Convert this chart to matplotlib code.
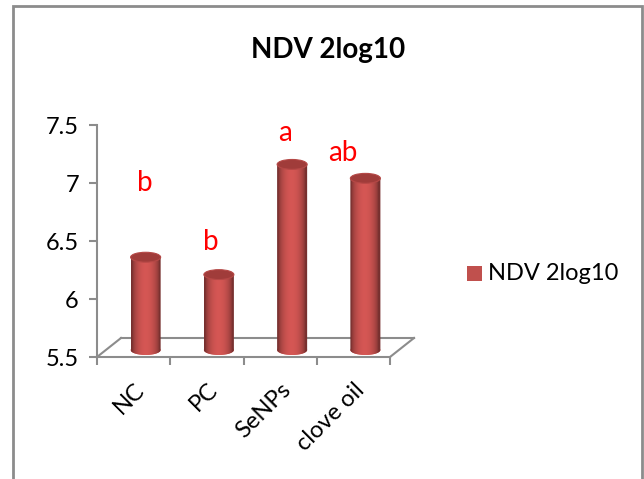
import numpy as np
import matplotlib.pyplot as plt
import matplotlib.transforms as mtransforms
from matplotlib.patches import Ellipse, Rectangle, Polygon

plt.rcParams['font.family'] = ['Lato', 'DejaVu Sans']

# data
groups = ['NC', 'PC', 'SeNPs', 'clove oil']
ndv = [6.3, 6.15, 7.1, 6.98]
letters = ['b', 'b', 'a', 'ab']
letter_y = [7.0, 6.49, 7.43, 7.26]
letter_dx = [0.15, 0.05, 0.07, -0.14]
series_name = 'NDV 2log10'

W, H = 644, 479
fig = plt.figure(figsize=(W / 100, H / 100), dpi=100)

# chart frame
fig.patches.append(Rectangle((13 / W, -0.01), (642 - 13) / W, 1 - 6 / H + 0.01,
                             transform=fig.transFigure, fill=False,
                             edgecolor='#8c8c8c', linewidth=2))

ax = fig.add_axes([97 / W, 1 - 357 / H, (390 - 97) / W, (357 - 125) / H])
x = np.arange(len(groups))
ax.set_xlim(-0.5, len(groups) - 0.5)
ax.set_ylim(5.5, 7.5)
ax.set_yticks([5.5, 6, 6.5, 7, 7.5])
ax.set_yticklabels(['5.5', '6', '6.5', '7', '7.5'])
ax.set_xticks(np.arange(len(groups) + 1) - 0.5, minor=True)
ax.set_xticks(x)
ax.set_xticklabels(groups, rotation=45, ha='right', rotation_mode='anchor')
ax.tick_params(axis='x', which='major', length=0, labelsize=17, pad=16)
ax.tick_params(axis='x', which='minor', length=6, color='#8c8c8c', width=1.5)
ax.tick_params(axis='y', length=6, color='#8c8c8c', width=1.5, labelsize=17, pad=7)
for s in ['top', 'right']:
    ax.spines[s].set_visible(False)
for s in ['left', 'bottom']:
    ax.spines[s].set_color('#8c8c8c')
    ax.spines[s].set_linewidth(1.5)

# 3D floor (depth offset in pixels)
depth = mtransforms.ScaledTranslation(24 / 100, 19 / 100, fig.dpi_scale_trans)
back = ax.transData + depth
x0, x1 = ax.get_xlim()
y0 = ax.get_ylim()[0]
for xx in (x0, x1):
    p0 = ax.transData.transform((xx, y0))
    p1 = back.transform((xx, y0))
    ax.plot([p0[0], p1[0]], [p0[1], p1[1]], transform=None, color='#8c8c8c',
            lw=1.5, clip_on=False)
pb0 = back.transform((x0, y0))
pb1 = back.transform((x1, y0))
ax.plot([pb0[0], pb1[0]], [pb0[1], pb1[1]], transform=None, color='#8c8c8c',
        lw=1.5, clip_on=False)

# cylinders at mid depth
mid = ax.transData + mtransforms.ScaledTranslation(12 / 100, 7 / 100, fig.dpi_scale_trans)
bw = 0.41
ell_h = 0.085
grad = np.linspace(0, 1, 256)
shade = 0.58 + 0.45 * np.sin(np.pi * np.clip(grad * 1.15 - 0.05, 0, 1)) ** 0.6
base = np.array([0.81, 0.33, 0.32])
img = np.clip(base[None, :] * shade[:, None], 0, 1)[None, :, :]
for xi, v in zip(x, ndv):
    bot = Ellipse((xi, y0), bw, ell_h, transform=mid, facecolor=img[0, 128],
                  edgecolor='none', clip_on=False)
    ax.add_patch(bot)
    im = ax.imshow(img, extent=(xi - bw / 2, xi + bw / 2, y0 - ell_h / 2, v),
                   aspect='auto', transform=mid, zorder=2)
    ang = np.linspace(np.pi, 2 * np.pi, 40)
    clip = Polygon(
        np.vstack([
            [[xi - bw / 2, v], [xi - bw / 2, y0]],
            np.column_stack([xi + bw / 2 * np.cos(ang), y0 + ell_h / 2 * np.sin(ang)]),
            [[xi + bw / 2, v]],
        ]), closed=True, transform=mid, facecolor='none', edgecolor='none')
    ax.add_patch(clip)
    im.set_clip_path(clip)
    top = Ellipse((xi, v), bw, ell_h, transform=mid, facecolor='#a03c3a',
                  edgecolor='#b54846', linewidth=0.8, zorder=3, clip_on=False)
    ax.add_patch(top)

ax.set_ylim(5.5, 7.5)
ax.set_xlim(x0, x1)

# significance letters
for xi, t, ly, dx in zip(x, letters, letter_y, letter_dx):
    ax.text(xi + dx, ly, t, color='red', fontsize=20, ha='center', va='center',
            clip_on=False)

fig.text(328 / W, 1 - 50 / H, series_name, fontsize=20, fontweight='bold',
         ha='center', va='center')

# legend
fig.patches.append(Rectangle((467 / W, 1 - 281 / H), 15 / W, 15 / H,
                             transform=fig.transFigure, facecolor='#c0504d',
                             edgecolor='none'))
fig.text(488 / W, 1 - 273 / H, series_name, fontsize=17, ha='left', va='center')

fig.savefig('out.png', dpi=100)
